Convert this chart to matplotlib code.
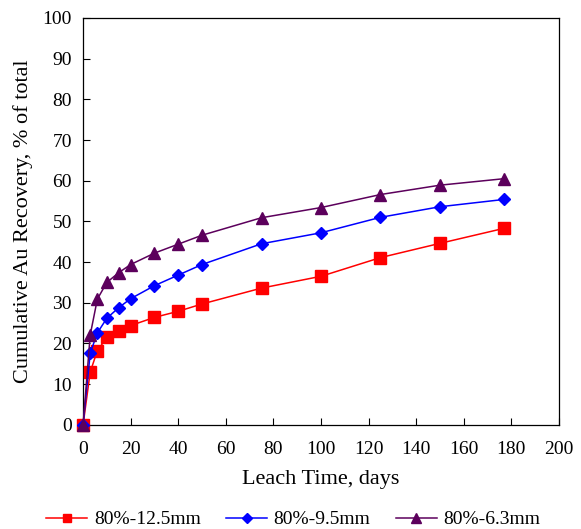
import matplotlib
matplotlib.use("Agg")
import matplotlib.pyplot as plt

# leach time (days) and cumulative Au recovery (% of total)
DAYS = [0, 3, 6, 10, 15, 20, 30, 40, 50, 75, 100, 125, 150, 177]
REC_12_5 = [0, 13.0, 18.2, 21.5, 23.1, 24.4, 26.4, 27.9, 29.7, 33.6, 36.5, 41.1, 44.6, 48.3]
REC_9_5 = [0, 17.6, 22.6, 26.2, 28.8, 31.0, 34.2, 36.8, 39.4, 44.5, 47.2, 51.0, 53.6, 55.4]
REC_6_3 = [0, 22.1, 30.9, 35.0, 37.4, 39.4, 42.2, 44.4, 46.6, 50.9, 53.4, 56.6, 58.9, 60.5]

plt.rcParams["font.family"] = ["Liberation Serif", "DejaVu Serif"]
plt.rcParams["font.size"] = 14

fig = plt.figure(figsize=(5.81, 5.29), dpi=100)
ax = fig.add_axes([0.143, 0.197, 0.819, 0.769])

ax.plot(DAYS, REC_12_5, color="#ff0000", marker="s", markersize=8.5, lw=1.1,
        label="80%-12.5mm", clip_on=False, zorder=3)
ax.plot(DAYS, REC_9_5, color="#0000ff", marker="D", markersize=6.5, lw=1.1,
        label="80%-9.5mm", clip_on=False, zorder=3)
ax.plot(DAYS, REC_6_3, color="#5c005c", marker="^", markersize=9, lw=1.1,
        label="80%-6.3mm", clip_on=False, zorder=3)

ax.set_xlim(0, 200)
ax.set_ylim(0, 100)
ax.set_xticks(range(0, 201, 20))
ax.set_yticks(range(0, 101, 10))
ax.tick_params(direction="in", length=5, width=0.8)
ax.tick_params(axis="x", pad=12)
ax.tick_params(axis="y", pad=8)
ax.set_xlabel("Leach Time, days", fontsize=16, labelpad=8)
ax.set_ylabel("Cumulative Au Recovery, % of total", fontsize=16, labelpad=7)
for s in ax.spines.values():
    s.set_linewidth(0.9)

fig.legend(loc="lower center", bbox_to_anchor=(0.505, -0.032), ncol=3,
           frameon=False, handlelength=2.1, handletextpad=0.35,
           columnspacing=1.3, fontsize=14, markerscale=0.75)

fig.savefig("out.png", dpi=100)
